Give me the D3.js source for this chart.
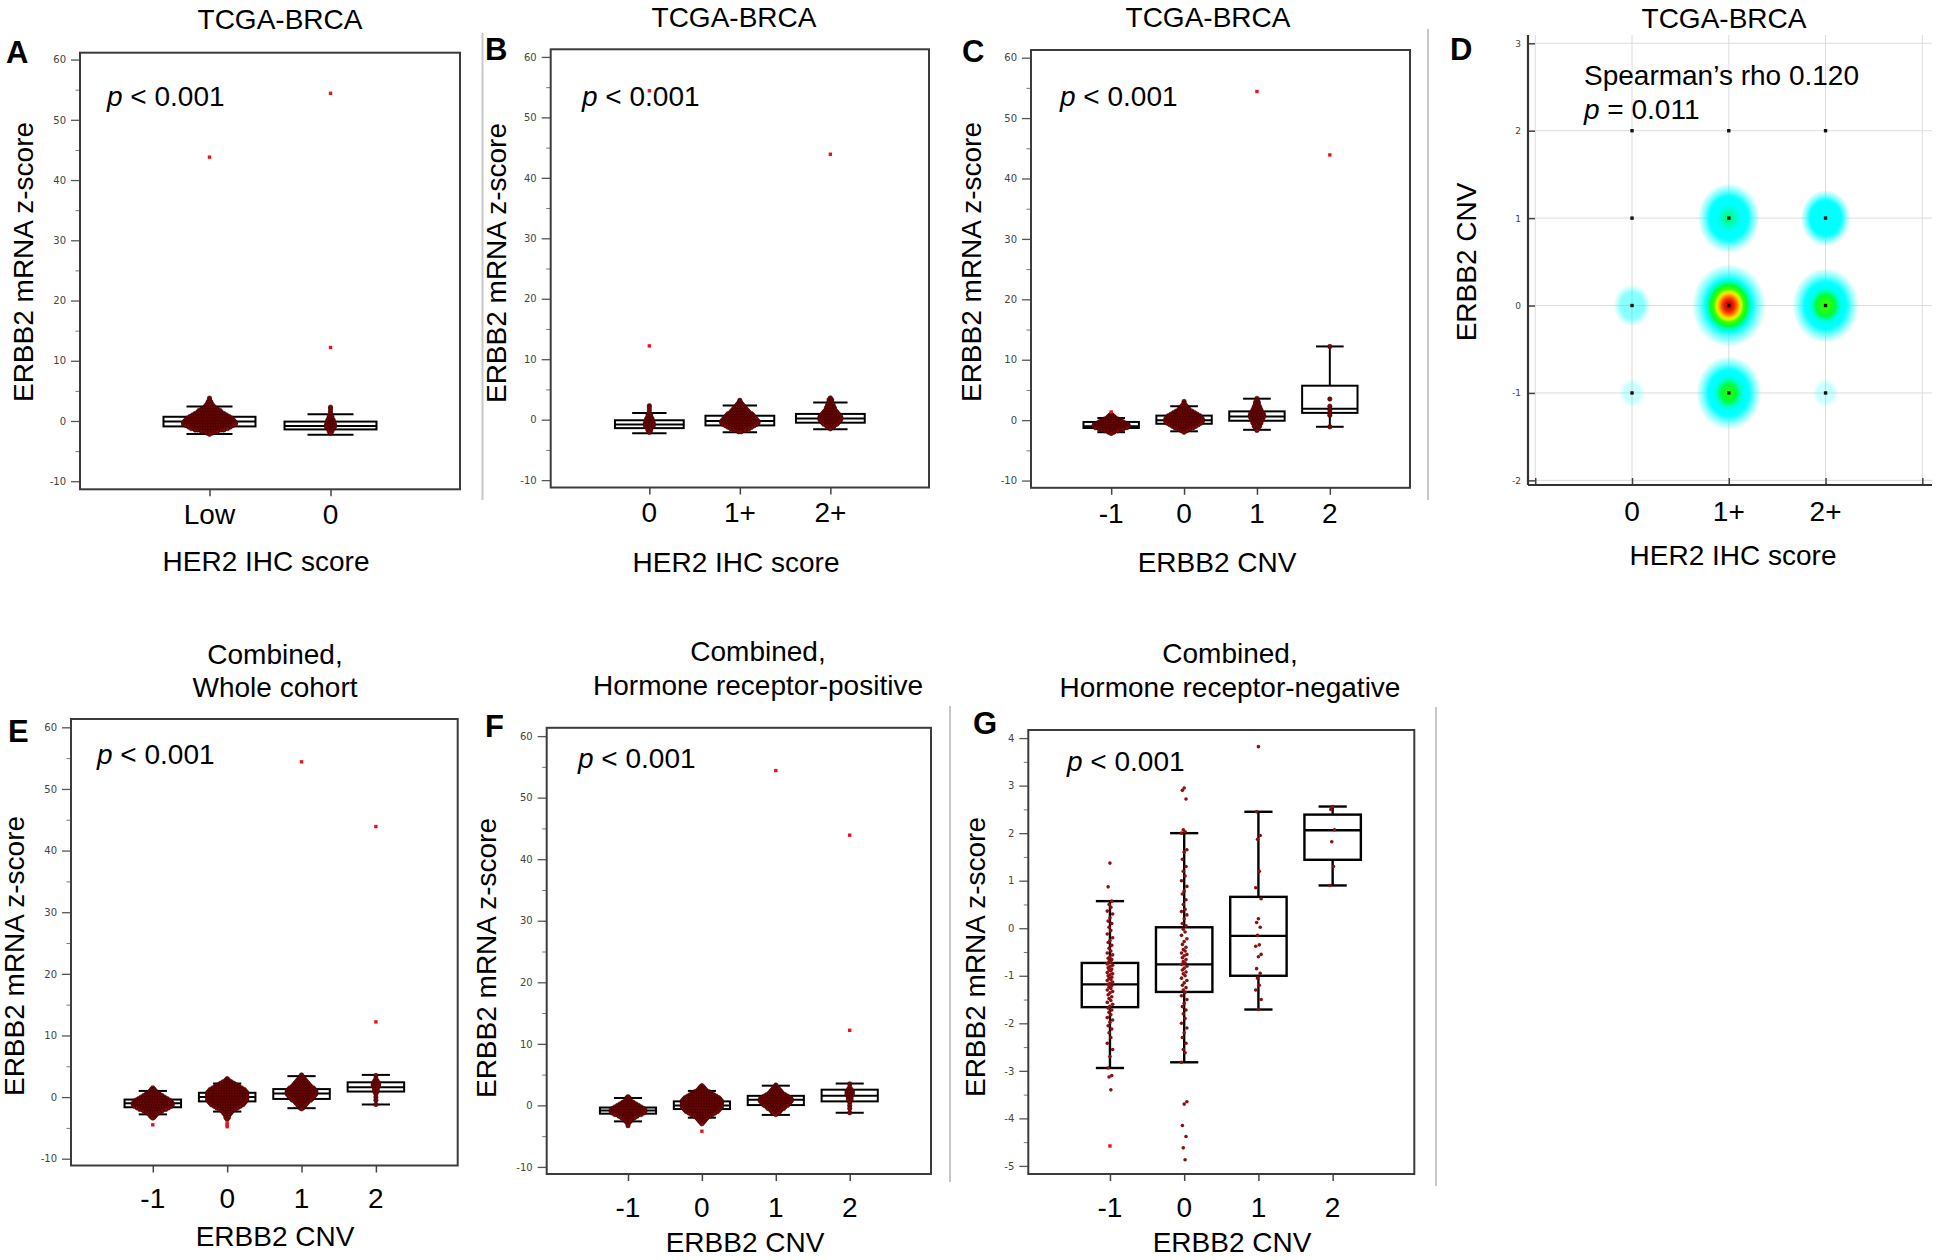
<!DOCTYPE html>
<html><head><meta charset="utf-8">
<script src="https://cdn.jsdelivr.net/npm/d3@7"></script>
<style>body{margin:0;background:#fff;} svg{display:block}</style>
</head><body>
<script>
// ---------------- DATA ----------------
const ihcLowZero = ["Low", "0"];
const ihcScores = ["0", "1+", "2+"];
const cnvLevels = ["-1", "0", "1", "2"];
const zTicksWide = [-10, 0, 10, 20, 30, 40, 50, 60];
const zMinorWide = [-5, 5, 15, 25, 35, 45, 55];
const zTicksG = [-5, -4, -3, -2, -1, 0, 1, 2, 3, 4];
const zMinorG = [-4.5, -3.5, -2.5, -1.5, -0.5, 0.5, 1.5, 2.5, 3.5];

// box stats: [lower whisker, q1, median, q3, upper whisker]
const boxA = [[-2.15, -0.9, -0.1, 0.7, 2.4], [-2.3, -1.4, -0.85, -0.1, 1.1]];
const boxB = [[-2.25, -1.4, -0.8, -0.1, 1.1], [-2.1, -0.95, -0.2, 0.65, 2.35], [-1.6, -0.5, 0.2, 0.95, 2.85]];
const boxC = [[-2.0, -1.3, -1.0, -0.3, 0.35], [-1.85, -0.6, 0.0, 0.75, 2.3], [-1.6, -0.1, 0.6, 1.45, 3.55], [-1.1, 1.2, 1.9, 5.7, 12.2]];
const boxE = [[-2.8, -1.65, -1.0, -0.4, 1.0], [-2.35, -0.7, 0.0, 0.7, 2.2], [-1.8, -0.3, 0.6, 1.3, 3.4], [-1.2, 0.9, 1.6, 2.4, 3.6]];
const boxF = [[-2.6, -1.35, -0.85, -0.35, 1.2], [-2.0, -0.6, 0.0, 0.65, 2.35], [-1.55, 0.05, 0.9, 1.55, 3.2], [-1.2, 0.65, 1.55, 2.55, 3.55]];
const boxG = [[-2.94, -1.66, -1.18, -0.73, 0.57], [-2.82, -1.34, -0.76, 0.02, 2.0], [-1.71, -1.0, -0.16, 0.66, 2.45], [0.9, 1.44, 2.06, 2.39, 2.56]];

// swarm histograms: [z-score, number of samples]
const swarmA = [
  [[3.8,1],[3.5,1],[3.2,2],[3.0,2],[2.75,3],[2.5,4],[2.25,5],[2,7],[1.75,9],[1.5,10],[1.25,12],[1,14],[0.75,16],[0.5,18],[0.25,19],[0,20],[-0.25,21],[-0.5,21],[-0.75,19],[-1,17],[-1.25,15],[-1.5,12],[-1.75,7],[-2,3],[-2.2,1]],
  [[2.3,1],[2.0,1],[1.6,1],[1.2,1],[0.8,2],[0.5,2],[0.2,3],[0,3],[-0.25,3],[-0.5,4],[-0.75,4],[-1,4],[-1.25,3],[-1.5,2],[-1.75,2],[-2,1]]
];
const swarmB = [
  [[2.3,1],[2.0,1],[1.6,1],[1.2,1],[0.8,2],[0.5,2],[0.2,3],[0,3],[-0.25,3],[-0.5,4],[-0.75,4],[-1,4],[-1.25,3],[-1.5,2],[-1.75,2],[-2.1,1]],
  [[3.2,1],[3.0,1],[2.75,2],[2.5,3],[2.25,4],[2,5],[1.75,6],[1.5,7],[1.25,8],[1,10],[0.75,11],[0.5,12],[0.25,13],[0,14],[-0.25,15],[-0.5,15],[-0.75,14],[-1,12],[-1.25,10],[-1.5,8],[-1.75,5],[-2,2]],
  [[3.6,1],[3.3,2],[3,2],[2.75,2],[2.5,3],[2.25,3],[2,4],[1.75,4],[1.5,5],[1.25,6],[1,7],[0.75,8],[0.5,9],[0.25,9],[0,9],[-0.25,8],[-0.5,7],[-0.75,6],[-1,4],[-1.25,3],[-1.5,1]]
];
const swarmC = [
  [[1.0,1],[0.8,2],[0.6,3],[0.4,4],[0.2,6],[0,8],[-0.25,10],[-0.5,12],[-0.75,14],[-1,14],[-1.25,13],[-1.5,10],[-1.75,6],[-2,3],[-2.2,1]],
  [[3.1,1],[2.8,1],[2.5,2],[2.25,3],[2,4],[1.75,5],[1.5,7],[1.25,9],[1,11],[0.75,13],[0.5,14],[0.25,15],[0,15],[-0.25,15],[-0.5,14],[-0.75,12],[-1,10],[-1.25,8],[-1.5,5],[-1.75,3],[-2,1]],
  [[3.6,1],[3.3,1],[3,2],[2.75,2],[2.5,2],[2.25,3],[2,3],[1.75,4],[1.5,4],[1.25,5],[1,6],[0.75,6],[0.5,6],[0.25,5],[0,5],[-0.25,4],[-0.5,4],[-0.75,3],[-1,3],[-1.25,2],[-1.5,1],[-1.7,1]],
  [[12.2,1],[3.5,1],[2.3,1],[1.7,1],[1.2,1],[0.8,1],[-1.1,1]]
];
const swarmE = [
  [[1.5,1],[1.25,2],[1,3],[0.75,4],[0.5,6],[0.25,8],[0,10],[-0.25,12],[-0.5,14],[-0.75,15],[-1,16],[-1.25,16],[-1.5,15],[-1.75,13],[-2,11],[-2.25,8],[-2.5,6],[-2.75,4],[-3,3],[-3.25,2],[-3.4,1]],
  [[3,1],[2.75,2],[2.5,4],[2.25,6],[2,8],[1.75,10],[1.5,12],[1.25,14],[1,15],[0.75,16],[0.5,16],[0.25,16],[0,16],[-0.25,16],[-0.5,16],[-0.75,15],[-1,14],[-1.25,13],[-1.5,11],[-1.75,9],[-2,7],[-2.25,5],[-2.5,4],[-2.75,3],[-3,2],[-3.3,2],[-3.6,1]],
  [[3.6,1],[3.3,2],[3,3],[2.75,4],[2.5,5],[2.25,6],[2,7],[1.75,8],[1.5,10],[1.25,11],[1,12],[0.75,12],[0.5,12],[0.25,11],[0,10],[-0.25,9],[-0.5,8],[-0.75,6],[-1,5],[-1.25,4],[-1.5,3],[-1.75,2],[-1.9,1]],
  [[3.5,1],[3,1],[2.6,2],[2.3,3],[2,3],[1.75,3],[1.5,2],[1.2,2],[0.9,2],[0.5,1],[0,1],[-0.5,1],[-1.2,1]]
];
const swarmF = [
  [[1.4,1],[1.2,2],[1,2],[0.75,3],[0.5,5],[0.25,7],[0,9],[-0.25,11],[-0.5,13],[-0.75,14],[-1,14],[-1.25,13],[-1.5,11],[-1.75,8],[-2,6],[-2.25,4],[-2.5,3],[-2.75,2],[-3,1],[-3.3,1]],
  [[3.2,1],[3,2],[2.75,3],[2.5,4],[2.25,6],[2,8],[1.75,10],[1.5,12],[1.25,14],[1,15],[0.75,16],[0.5,16],[0.25,16],[0,16],[-0.25,16],[-0.5,15],[-0.75,14],[-1,13],[-1.25,11],[-1.5,9],[-1.75,7],[-2,5],[-2.25,4],[-2.5,3],[-2.75,2],[-3,1]],
  [[3.3,1],[3,2],[2.75,3],[2.5,4],[2.25,5],[2,6],[1.75,8],[1.5,10],[1.25,12],[1,13],[0.75,13],[0.5,12],[0.25,11],[0,10],[-0.25,8],[-0.5,7],[-0.75,5],[-1,4],[-1.25,3],[-1.5,1]],
  [[3.5,1],[3,1],[2.6,2],[2.3,3],[2,3],[1.75,3],[1.5,2],[1.2,2],[0.9,2],[0.5,1],[0,1],[-0.5,1],[-1.2,1]]
];
// individual samples, panel G
const pointsG = [
  [1.37,0.87,0.57,0.5,0.44,0.36,0.3,0.22,0.15,0.1,0.02,-0.05,-0.12,-0.2,-0.26,-0.3,-0.36,-0.42,-0.48,-0.52,-0.56,-0.6,-0.63,-0.66,-0.7,-0.72,-0.75,-0.78,-0.8,-0.83,-0.86,-0.88,-0.9,-0.93,-0.96,-0.98,-1.0,-1.03,-1.05,-1.08,-1.1,-1.13,-1.16,-1.18,-1.21,-1.24,-1.27,-1.3,-1.33,-1.36,-1.4,-1.44,-1.48,-1.52,-1.56,-1.6,-1.64,-1.68,-1.72,-1.77,-1.82,-1.88,-1.93,-1.98,-2.05,-2.12,-2.2,-2.3,-2.42,-2.55,-2.7,-2.94,-3.1,-3.13,-3.4],
  [2.95,2.9,2.72,2.07,2.03,2.0,1.65,1.6,1.45,1.3,1.2,1.1,1.0,0.88,0.78,0.72,0.6,0.5,0.4,0.35,0.28,0.2,0.1,0.05,-0.02,-0.08,-0.15,-0.22,-0.28,-0.34,-0.4,-0.45,-0.48,-0.52,-0.55,-0.58,-0.62,-0.66,-0.7,-0.73,-0.76,-0.8,-0.84,-0.88,-0.92,-0.96,-1.0,-1.05,-1.1,-1.15,-1.2,-1.25,-1.3,-1.35,-1.42,-1.5,-1.58,-1.65,-1.72,-1.8,-1.9,-2.0,-2.1,-2.2,-2.3,-2.42,-2.55,-2.62,-2.82,-3.65,-3.7,-4.15,-4.38,-4.62,-4.87],
  [3.82,2.45,1.95,1.87,1.2,0.85,0.62,0.2,0.12,0.02,-0.15,-0.35,-0.38,-0.55,-0.6,-0.85,-0.95,-1.05,-1.2,-1.3,-1.5,-1.71],
  [2.56,2.5,2.07,1.82,1.3,0.9]
];
// extreme outliers (bright red)
const extremeA = [[43.8], [54.4, 12.2]];
const extremeB = [[12.2, 54.4], [], [43.9]];
const extremeC = [[1.35], [], [54.4], [43.9]];
const extremeE = [[-4.5], [-4.2, -4.5, -4.8], [54.4], [43.9, 12.2]];
const extremeF = [[], [-4.2], [54.4], [43.9, 12.2]];
const extremeG = [[-4.58], [], [], []];

// panel D: HER2 IHC (index) x ERBB2 CNV, sample counts
const dIhcLabels = ["0", "1+", "2+"];
const dCnvTicks = [-2, -1, 0, 1, 2, 3];
const dGridX = [-1, 0, 1, 2, 3];
const dCells = [
  [1, 0, 200], [2, 0, 110], [1, -1, 100], [1, 1, 75], [2, 1, 28], [0, 0, 10],
  [0, -1, 4], [2, -1, 4], [0, 1, 1], [0, 2, 1], [1, 2, 1], [2, 2, 1]
];

// ---------------- DRAWING ----------------
const W = 1944, H = 1260;
const FONT = "'Liberation Sans', Arial, Helvetica, sans-serif";
const SMALL = "'DejaVu Sans', Verdana, sans-serif";
const svg = d3.select("body").append("svg").attr("width", W).attr("height", H);
svg.append("rect").attr("width", W).attr("height", H).attr("fill", "#fff");
const defs = svg.append("defs");

function text(x, y, s, o = {}) {
  const t = svg.append("text").attr("x", x).attr("y", y)
    .attr("font-family", FONT).attr("font-size", o.size || 28)
    .attr("font-weight", o.weight || "normal")
    .attr("text-anchor", o.anchor || "start").attr("fill", "#000");
  if (o.rotate) t.attr("transform", `rotate(-90 ${x} ${y})`);
  t.text(s);
  return t;
}
function pText(x, y, rest) {
  const t = svg.append("text").attr("x", x).attr("y", y).attr("font-family", FONT).attr("font-size", 28);
  t.append("tspan").attr("font-style", "italic").text("p");
  t.append("tspan").text(rest);
}

// separators
[[482.5, 33, 500], [1428, 29, 500], [950, 706, 1182], [1436, 707, 1186]].forEach(s =>
  svg.append("line").attr("x1", s[0]).attr("x2", s[0]).attr("y1", s[1]).attr("y2", s[2])
    .attr("stroke", "#c8c8c8").attr("stroke-width", 2));

function drawBoxPanel(o) {
  const x = d3.scalePoint().domain(o.cats).range([o.x0, o.x1]).padding(o.pad);
  const y = d3.scaleLinear().domain(o.ydom).range([o.y1, o.y0]);
  const bw = x.step() * 0.76;
  const g = svg.append("g");

  const ax = g.append("g").attr("transform", `translate(${o.x0},0)`)
    .call(d3.axisLeft(y).tickValues(o.major).tickSize(9).tickPadding(5).tickFormat(d => String(d)));
  ax.select(".domain").remove();
  ax.selectAll("line").attr("stroke", "#555").attr("stroke-width", 1.3);
  ax.selectAll("text").attr("font-family", SMALL).attr("font-size", 10).attr("fill", "#444");
  const mn = g.append("g").attr("transform", `translate(${o.x0},0)`)
    .call(d3.axisLeft(y).tickValues(o.minor).tickSize(4.5).tickFormat(""));
  mn.select(".domain").remove();
  mn.selectAll("line").attr("stroke", "#777").attr("stroke-width", 1);
  const xa = g.append("g").attr("transform", `translate(0,${o.y1})`)
    .call(d3.axisBottom(x).tickSize(7).tickFormat(""));
  xa.select(".domain").remove();
  xa.selectAll("line").attr("stroke", "#444").attr("stroke-width", 1.5);

  const sw = o.boxStroke || 2;
  const bx = g.selectAll("g.box").data(o.boxes).join("g").attr("class", "box")
    .attr("transform", (d, i) => `translate(${x(o.cats[i])},0)`);
  bx.append("line").attr("y1", d => y(d[4])).attr("y2", d => y(d[3])).attr("stroke", "#000").attr("stroke-width", sw);
  bx.append("line").attr("y1", d => y(d[0])).attr("y2", d => y(d[1])).attr("stroke", "#000").attr("stroke-width", sw);
  bx.append("line").attr("x1", -bw / 4).attr("x2", bw / 4).attr("y1", d => y(d[4])).attr("y2", d => y(d[4])).attr("stroke", "#000").attr("stroke-width", sw);
  bx.append("line").attr("x1", -bw / 4).attr("x2", bw / 4).attr("y1", d => y(d[0])).attr("y2", d => y(d[0])).attr("stroke", "#000").attr("stroke-width", sw);
  bx.append("rect").attr("x", -bw / 2).attr("width", bw).attr("y", d => y(d[3])).attr("height", d => y(d[1]) - y(d[3]))
    .attr("fill", "#fff").attr("stroke", "#000").attr("stroke-width", sw);
  bx.append("line").attr("x1", -bw / 2).attr("x2", bw / 2).attr("y1", d => y(d[2])).attr("y2", d => y(d[2])).attr("stroke", "#000").attr("stroke-width", sw);

  if (o.swarm) {
    const dots = [];
    o.swarm.forEach((bins, i) => {
      const cx = x(o.cats[i]);
      bins.forEach(([v, n]) => { for (let k = 0; k < n; k++) dots.push({ x: cx + (k - (n - 1) / 2) * 2.6, v }); });
    });
    g.append("g").selectAll("circle").data(dots).join("circle")
      .attr("cx", d => d.x).attr("cy", d => y(d.v)).attr("r", 2.2)
      .attr("fill", "#7a0a0a").attr("stroke", "#3a0000").attr("stroke-width", 0.6);
  }
  if (o.points) {
    const dots = [];
    const jit = [0, -2, 2, -1, 1, -3, 3];
    o.points.forEach((vals, i) => vals.forEach((v, k) => dots.push({ x: x(o.cats[i]) + jit[k % 7] * 0.9, v })));
    g.append("g").selectAll("circle").data(dots).join("circle")
      .attr("cx", d => d.x).attr("cy", d => y(d.v)).attr("r", 1.8).attr("fill", "#8a1010");
  }
  const ex = [];
  o.extremes.forEach((vals, i) => vals.forEach(v => ex.push({ c: o.cats[i], v })));
  g.append("g").selectAll("rect").data(ex).join("rect")
    .attr("x", d => x(d.c) - 1.7).attr("y", d => y(d.v) - 1.7).attr("width", 3.4).attr("height", 3.4).attr("fill", "#e8141c");

  g.append("rect").attr("x", o.x0).attr("y", o.y0).attr("width", o.x1 - o.x0).attr("height", o.y1 - o.y0)
    .attr("fill", "none").attr("stroke", "#3c3c3c").attr("stroke-width", 2);

  o.cats.forEach(c => text(x(c), o.tickBase, c, { anchor: "middle" }));
  text(o.xtX, o.xtBase, o.xtitle, { anchor: "middle" });
  text(o.ytX, o.ytY, "ERBB2 mRNA z-score", { anchor: "middle", rotate: true });
  o.title.forEach((t, i) => text(o.titleX, o.titleBase[i], t, { anchor: "middle" }));
  text(o.letterX, o.letterBase, o.letter, { size: 31, weight: "bold" });
  pText(o.pX, o.pBase, " < 0.001");
}

drawBoxPanel({ x0: 80, x1: 460, y0: 52.7, y1: 489.3, ydom: [-11.34, 61.14], cats: ihcLowZero, pad: 1.07,
  boxes: boxA, swarm: swarmA, extremes: extremeA, major: zTicksWide, minor: zMinorWide,
  tickBase: 524, xtitle: "HER2 IHC score", xtX: 266, xtBase: 571, ytX: 33, ytY: 262,
  title: ["TCGA-BRCA"], titleX: 280, titleBase: [29], letter: "A", letterX: 6, letterBase: 63, pX: 107, pBase: 106 });
drawBoxPanel({ x0: 550.7, x1: 929, y0: 49.3, y1: 487.5, ydom: [-11.22, 61.26], cats: ihcScores, pad: 1.09,
  boxes: boxB, swarm: swarmB, extremes: extremeB, major: zTicksWide, minor: zMinorWide,
  tickBase: 522, xtitle: "HER2 IHC score", xtX: 736, xtBase: 572, ytX: 506, ytY: 263,
  title: ["TCGA-BRCA"], titleX: 734, titleBase: [27], letter: "B", letterX: 485, letterBase: 60, pX: 582, pBase: 105.6 });
drawBoxPanel({ x0: 1031, x1: 1410, y0: 50, y1: 487.8, ydom: [-11.2, 61.27], cats: cnvLevels, pad: 1.1,
  boxes: boxC, swarm: swarmC, extremes: extremeC, major: zTicksWide, minor: zMinorWide,
  tickBase: 523, xtitle: "ERBB2 CNV", xtX: 1217, xtBase: 572, ytX: 981, ytY: 262,
  title: ["TCGA-BRCA"], titleX: 1208, titleBase: [27], letter: "C", letterX: 962, letterBase: 61.5, pX: 1060, pBase: 105.5 });
drawBoxPanel({ x0: 71, x1: 457.7, y0: 719, y1: 1165.5, ydom: [-11.1, 61.35], cats: cnvLevels, pad: 1.1,
  boxes: boxE, swarm: swarmE, extremes: extremeE, major: zTicksWide, minor: zMinorWide,
  tickBase: 1208, xtitle: "ERBB2 CNV", xtX: 275, xtBase: 1246, ytX: 23.5, ytY: 956,
  title: ["Combined,", "Whole cohort"], titleX: 275, titleBase: [664, 697], letter: "E", letterX: 8, letterBase: 741.5, pX: 97, pBase: 764 });
drawBoxPanel({ x0: 546.7, x1: 931, y0: 727.8, y1: 1174, ydom: [-11.15, 61.35], cats: cnvLevels, pad: 1.1,
  boxes: boxF, swarm: swarmF, extremes: extremeF, major: zTicksWide, minor: zMinorWide,
  tickBase: 1217, xtitle: "ERBB2 CNV", xtX: 745, xtBase: 1252, ytX: 496, ytY: 958,
  title: ["Combined,", "Hormone receptor-positive"], titleX: 758, titleBase: [661, 695], letter: "F", letterX: 485, letterBase: 737, pX: 578, pBase: 768 });
drawBoxPanel({ x0: 1028.3, x1: 1414.3, y0: 730, y1: 1174, ydom: [-5.17, 4.17], cats: cnvLevels, pad: 1.1,
  boxes: boxG, points: pointsG, extremes: extremeG, major: zTicksG, minor: zMinorG, boxStroke: 2.4,
  tickBase: 1217, xtitle: "ERBB2 CNV", xtX: 1232, xtBase: 1252, ytX: 985, ytY: 957,
  title: ["Combined,", "Hormone receptor-negative"], titleX: 1230, titleBase: [663, 697], letter: "G", letterX: 973, letterBase: 734, pX: 1067, pBase: 771 });

// ---------------- PANEL D ----------------
(function () {
  const x = d3.scaleLinear().domain([-1.075, 3.1]).range([1528, 1932]);
  const y = d3.scaleLinear().domain([-2.053, 3.095]).range([485, 35]);
  const g = svg.append("g");
  g.selectAll("line.gx").data(dGridX).join("line").attr("x1", d => x(d)).attr("x2", d => x(d))
    .attr("y1", y(3.095)).attr("y2", y(-2.053)).attr("stroke", "#dcdcdc").attr("stroke-width", 1);
  g.selectAll("line.gy").data(dCnvTicks).join("line").attr("x1", x(-1.075)).attr("x2", x(3.1))
    .attr("y1", d => y(d)).attr("y2", d => y(d)).attr("stroke", "#dcdcdc").attr("stroke-width", 1);

  const rScale = d3.scaleLog().domain([1, 200]).range([5, 39]);
  const peak = d3.scaleLinear().domain([0, 200]).range([0, 1]);
  const strength = d3.scalePow().exponent(0.6).domain([1, 28]).range([0, 1]).clamp(true);
  const jet = d3.scaleLinear()
    .domain([0, 0.22, 0.32, 0.42, 0.58, 0.7, 0.82, 0.92, 1])
    .range(["#00ffff", "#00ffff", "#00ffc8", "#00ff30", "#40ff00", "#ffff00", "#ff9000", "#ff2800", "#c80000"])
    .clamp(true);
  const e = Math.exp(-3.2);
  dCells.forEach((c, i) => {
    const p = peak(c[2]), r = rScale(c[2]), s = strength(c[2]);
    if (s <= 0) return;
    const grad = defs.append("radialGradient").attr("id", "blob" + i);
    d3.range(0, 1.0001, 0.05).forEach(t => {
      const f = Math.max(0, (Math.exp(-3.2 * t * t) - e) / (1 - e));
      const a = Math.pow(Math.min(1, f / 0.25), 0.7) * s;
      grad.append("stop").attr("offset", t).attr("stop-color", jet(p * f)).attr("stop-opacity", a);
    });
    g.append("ellipse").attr("cx", x(c[0])).attr("cy", y(c[1])).attr("rx", r * 0.94).attr("ry", r * 1.06)
      .attr("fill", `url(#blob${i})`);
  });
  g.selectAll("rect.pt").data(dCells).join("rect").attr("x", d => x(d[0]) - 1.7).attr("y", d => y(d[1]) - 1.7)
    .attr("width", 3.4).attr("height", 3.4).attr("fill", "#111");

  const ya = g.append("g").attr("transform", `translate(${x(-1.075)},0)`)
    .call(d3.axisRight(y).tickValues(dCnvTicks).tickSize(7).tickFormat(""));
  ya.select(".domain").remove();
  ya.selectAll("line").attr("stroke", "#444").attr("stroke-width", 1.5);
  const xa = g.append("g").attr("transform", `translate(0,${y(-2.053)})`)
    .call(d3.axisTop(x).tickValues(dGridX).tickSize(7).tickFormat(""));
  xa.select(".domain").remove();
  xa.selectAll("line").attr("stroke", "#444").attr("stroke-width", 1.5);
  g.append("line").attr("x1", x(-1.075)).attr("x2", x(-1.075)).attr("y1", y(3.095)).attr("y2", y(-2.053))
    .attr("stroke", "#333").attr("stroke-width", 2.2);
  g.append("line").attr("x1", x(-1.075)).attr("x2", x(3.1)).attr("y1", y(-2.053)).attr("y2", y(-2.053))
    .attr("stroke", "#333").attr("stroke-width", 2.2);
  g.selectAll("text.yt").data(dCnvTicks).join("text").attr("x", 1521).attr("y", d => y(d) + 3.5)
    .attr("text-anchor", "end").attr("font-family", SMALL).attr("font-size", 9).attr("fill", "#444").text(d => String(d));
  dIhcLabels.forEach((l, i) => text(x(i), 521, l, { anchor: "middle" }));
  text(1733, 565, "HER2 IHC score", { anchor: "middle" });
  text(1476, 262, "ERBB2 CNV", { anchor: "middle", rotate: true });
  text(1724, 28, "TCGA-BRCA", { anchor: "middle" });
  text(1450, 60, "D", { size: 31, weight: "bold" });
  text(1584, 84.5, "Spearman\u2019s rho 0.120");
  pText(1584, 119, " = 0.011");
})();
</script>
</body></html>
